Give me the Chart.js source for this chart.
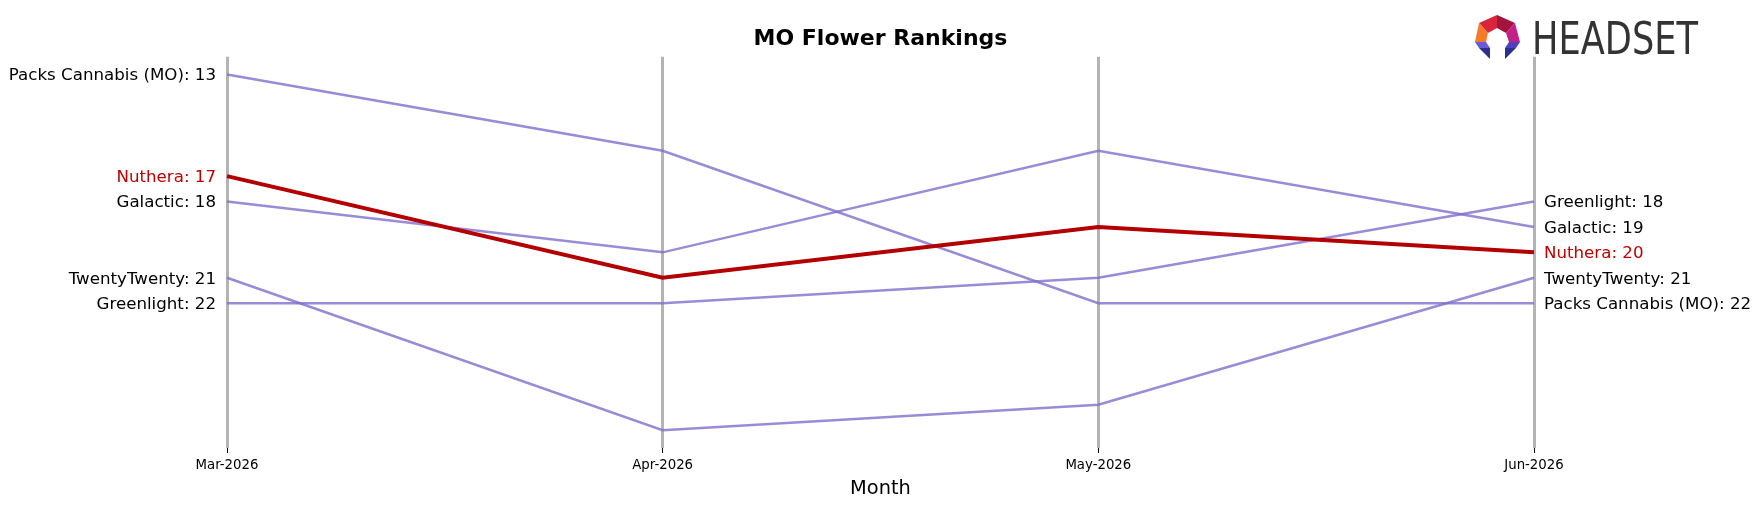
<!DOCTYPE html>
<html>
<head>
<meta charset="utf-8">
<script src="https://cdn.jsdelivr.net/npm/chart.js@4.4.1/dist/chart.umd.min.js"></script>
<style>
  html, body { margin: 0; padding: 0; background: #fff; }
  #wrap { width: 1761px; height: 507px; }
</style>
</head>
<body>
<div id="wrap"><canvas id="chartRank" width="1761" height="507"></canvas></div>
<script>
//Datos
const months = ["Mar-2026", "Apr-2026", "May-2026", "Jun-2026"];
const brands = ["Nuthera", "Packs Cannabis (MO)", "Galactic", "TwentyTwenty", "Greenlight"];
const rankNuthera = [17, 21, 19, 20];
const rankPacks = [13, 16, 22, 22];
const rankGalactic = [18, 20, 16, 19];
const rankTwentyTwenty = [21, 27, 26, 21];
const rankGreenlight = [22, 22, 21, 18];
const highlight = "Nuthera";

const ranks = [rankNuthera, rankPacks, rankGalactic, rankTwentyTwenty, rankGreenlight];

//Colores
const RED_LINE = "#b30000";
const RED_TEXT = "#c00000";
const PURPLE = "rgba(128,110,205,0.8)";

//Etiquetas laterales (rango -> "Marca: rango")
function sideLabels(idx) {
  const m = {};
  brands.forEach((b, i) => { m[ranks[i][idx]] = b; });
  return m;
}
const leftMap = sideLabels(0);
const rightMap = sideLabels(months.length - 1);
const leftTicks = Object.keys(leftMap).map(Number);
const rightTicks = Object.keys(rightMap).map(Number);

const allRanks = ranks.flat();
const yMin = Math.min(...allRanks) - 0.7;
const yMax = Math.max(...allRanks) + 0.7;

const datasets = brands.map((b, i) => ({
  label: b,
  data: ranks[i],
  borderColor: b === highlight ? RED_LINE : PURPLE,
  borderWidth: b === highlight ? 4 : 2.5,
  pointRadius: 0,
  tension: 0,
  yAxisID: "y"
}));

//Logo
const headsetLogo = {
  id: "headsetLogo",
  afterDraw(chart) {
    const ctx = chart.ctx;
    ctx.save();
    const polys = [
      ["#d8243c", [[1497, 15], [1497, 28], [1488, 33], [1479, 23]]],
      ["#a3143c", [[1497, 15], [1515, 23], [1506, 33], [1497, 28]]],
      ["#f47b2a", [[1479, 23], [1488, 33], [1486, 42], [1475, 42]]],
      ["#c4208c", [[1515, 23], [1520, 42], [1509, 42], [1506, 33]]],
      ["#6a5ad8", [[1475, 42], [1486, 42], [1490, 48], [1479, 48]]],
      ["#2c2f8c", [[1479, 48], [1490, 48], [1490, 59]]],
      ["#5040c0", [[1509, 42], [1520, 42], [1516, 48], [1505, 48]]],
      ["#2c2f8c", [[1505, 48], [1516, 48], [1505, 59]]]
    ];
    polys.forEach(([c, pts]) => {
      ctx.fillStyle = c;
      ctx.beginPath();
      pts.forEach((p, k) => k ? ctx.lineTo(p[0], p[1]) : ctx.moveTo(p[0], p[1]));
      ctx.closePath();
      ctx.fill();
    });
    ctx.font = "44px 'DejaVu Sans'";
    ctx.fillStyle = "#333333";
    ctx.textBaseline = "alphabetic";
    const w = ctx.measureText("HEADSET").width;
    ctx.translate(1532, 54);
    ctx.scale(166 / w, 1);
    ctx.fillText("HEADSET", 0, 0);
    ctx.restore();
  }
};

Chart.defaults.font.family = "'DejaVu Sans', sans-serif";
Chart.defaults.color = "#000";

new Chart(document.getElementById("chartRank"), {
  type: "line",
  data: { labels: months, datasets },
  options: {
    responsive: false,
    animation: false,
    devicePixelRatio: 1,
    layout: { padding: 0 },
    plugins: {
      legend: { display: false },
      tooltip: { enabled: false },
      title: {
        display: true,
        text: "MO Flower Rankings",
        color: "#000",
        font: { size: 22, weight: "bold", lineHeight: 1.2 },
        padding: { top: 26, bottom: 4.3 }
      }
    },
    scales: {
      x: {
        type: "category",
        offset: false,
        border: { display: false },
        grid: { color: "#b4b4b4", lineWidth: 3, drawTicks: true, tickLength: 5, tickColor: "#000", tickWidth: 1 },
        ticks: { font: { size: 13.3 }, padding: 5, maxRotation: 0, autoSkip: false },
        title: { display: true, text: "Month", font: { size: 19.4 }, padding: { top: 0, bottom: 6.4 } },
        afterFit: s => { s.height = 59; }
      },
      y: {
        position: "left",
        reverse: true,
        min: yMin, max: yMax,
        border: { display: false },
        grid: { display: false, drawTicks: false },
        afterBuildTicks: s => { s.ticks = leftTicks.map(v => ({ value: v })); },
        ticks: {
          padding: 11,
          labelOffset: 1.5,
          font: { size: 16.67 },
          color: c => leftMap[c.tick.value] === highlight ? RED_TEXT : "#000",
          callback: v => leftMap[v] + ": " + v
        },
        afterFit: s => { s.width = 227; }
      },
      y2: {
        position: "right",
        reverse: true,
        min: yMin, max: yMax,
        border: { display: false },
        grid: { display: false, drawTicks: false },
        afterBuildTicks: s => { s.ticks = rightTicks.map(v => ({ value: v })); },
        ticks: {
          padding: 10,
          labelOffset: 1.5,
          font: { size: 16.67 },
          color: c => rightMap[c.tick.value] === highlight ? RED_TEXT : "#000",
          callback: v => rightMap[v] + ": " + v
        },
        afterFit: s => { s.width = 227; }
      }
    }
  },
  plugins: [headsetLogo]
});
</script>
</body>
</html>
